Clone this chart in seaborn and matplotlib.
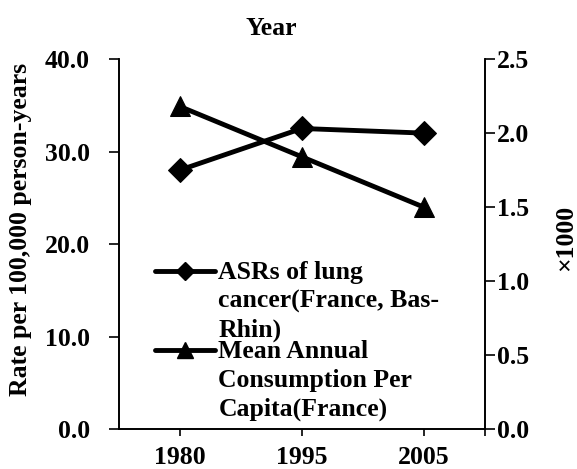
import numpy as np
import pandas as pd
import seaborn as sns
import matplotlib.pyplot as plt
from matplotlib.lines import Line2D
from matplotlib.legend_handler import HandlerLine2D

years = ["1980", "1995", "2005"]
asr_lung = [28.0, 32.5, 32.0]          # left axis, rate per 100,000
consumption = [2.18, 1.84, 1.50]       # right axis, x1000
asr_label = "ASRs of lung\ncancer(France, Bas-\nRhin)"
cons_label = "Mean Annual\nConsumption Per\nCapita(France)"

sns.set_theme(style="ticks")
plt.rcParams['font.family'] = ['Liberation Serif', 'DejaVu Serif']
plt.rcParams['font.weight'] = 'bold'
plt.rcParams['text.color'] = 'black'
plt.rcParams['axes.linewidth'] = 1.2

fs = 18.5


class TopLineHandler(HandlerLine2D):
    # put the legend line next to the first text row, like the original
    def create_artists(self, legend, orig_handle, xdescent, ydescent,
                       width, height, fontsize, trans):
        arts = super().create_artists(legend, orig_handle, xdescent, ydescent,
                                      width, height, fontsize, trans)
        for a in arts:
            a.set_ydata(np.asarray(a.get_ydata()) + fontsize * 1.2)
        return arts


df = pd.DataFrame({"year": years, "asr": asr_lung, "cons": consumption})
df["pos"] = np.arange(len(years))

fig = plt.figure(figsize=(5.77, 4.69), dpi=100)
ax = fig.add_axes([0.206, 0.085, 0.634, 0.789])
ax2 = ax.twinx()

sns.lineplot(data=df, x="pos", y="asr", ax=ax, color="black", lw=3.5,
             marker="D", markersize=12, markeredgecolor="black")
sns.lineplot(data=df, x="pos", y="cons", ax=ax2, color="black", lw=3.5,
             marker="^", markersize=15, markeredgecolor="black")

ax.set_xlim(-0.5, 2.5)
ax.set_ylim(0, 40)
ax2.set_ylim(0, 2.5)
ax.set_xticks(df["pos"])
ax.set_xticklabels(years, fontsize=fs, fontweight="bold", color="black")
ax.set_xticks([2.5], minor=True)
ax.set_yticks(np.arange(0, 41, 10))
ax.set_yticklabels([f"{v:.1f}" for v in np.arange(0, 41, 10)], fontsize=fs,
                   fontweight="bold", color="black")
ax2.set_yticks(np.arange(0, 2.51, 0.5))
ax2.set_yticklabels([f"{v:.1f}" for v in np.arange(0, 2.51, 0.5)], fontsize=fs,
                    fontweight="bold", color="black")
ax.tick_params(axis="y", direction="out", length=7, width=1.2, pad=14, colors="black")
ax.tick_params(axis="x", which="both", direction="out", length=5, width=1.2, pad=7, colors="black")
ax2.tick_params(axis="y", direction="out", length=7, width=1.2, pad=2, colors="black")
ax.set_xlabel("")
ax.set_ylabel("")
ax2.set_ylabel("")
for a in (ax, ax2):
    a.spines["top"].set_visible(False)
    for s in a.spines.values():
        s.set_color("black")
ax2.spines["right"].set_visible(True)

fig.text(0.47, 0.94, "Year", ha="center", va="center", fontsize=fs, fontweight="bold")
fig.text(0.035, 0.51, "Rate per 100,000 person-years", rotation=90,
         ha="center", va="center", fontsize=fs, fontweight="bold")
fig.text(0.981, 0.493, "\u00d71000", rotation=90, ha="center", va="center",
         fontsize=fs, fontweight="bold")

handles = [
    Line2D([], [], color="black", lw=3.5, marker="D", markersize=9),
    Line2D([], [], color="black", lw=3.5, marker="^", markersize=12),
]
leg = ax.legend(handles, [asr_label, cons_label], loc="lower left",
                bbox_to_anchor=(0.1, 0.022), frameon=False, borderpad=0,
                borderaxespad=0, labelspacing=-0.1, handlelength=2.3,
                handletextpad=0.15, prop={"size": fs, "weight": "bold"},
                handler_map={Line2D: TopLineHandler()})
for t in leg.get_texts():
    t.set_linespacing(1.33)

fig.savefig("out.png", dpi=100)
